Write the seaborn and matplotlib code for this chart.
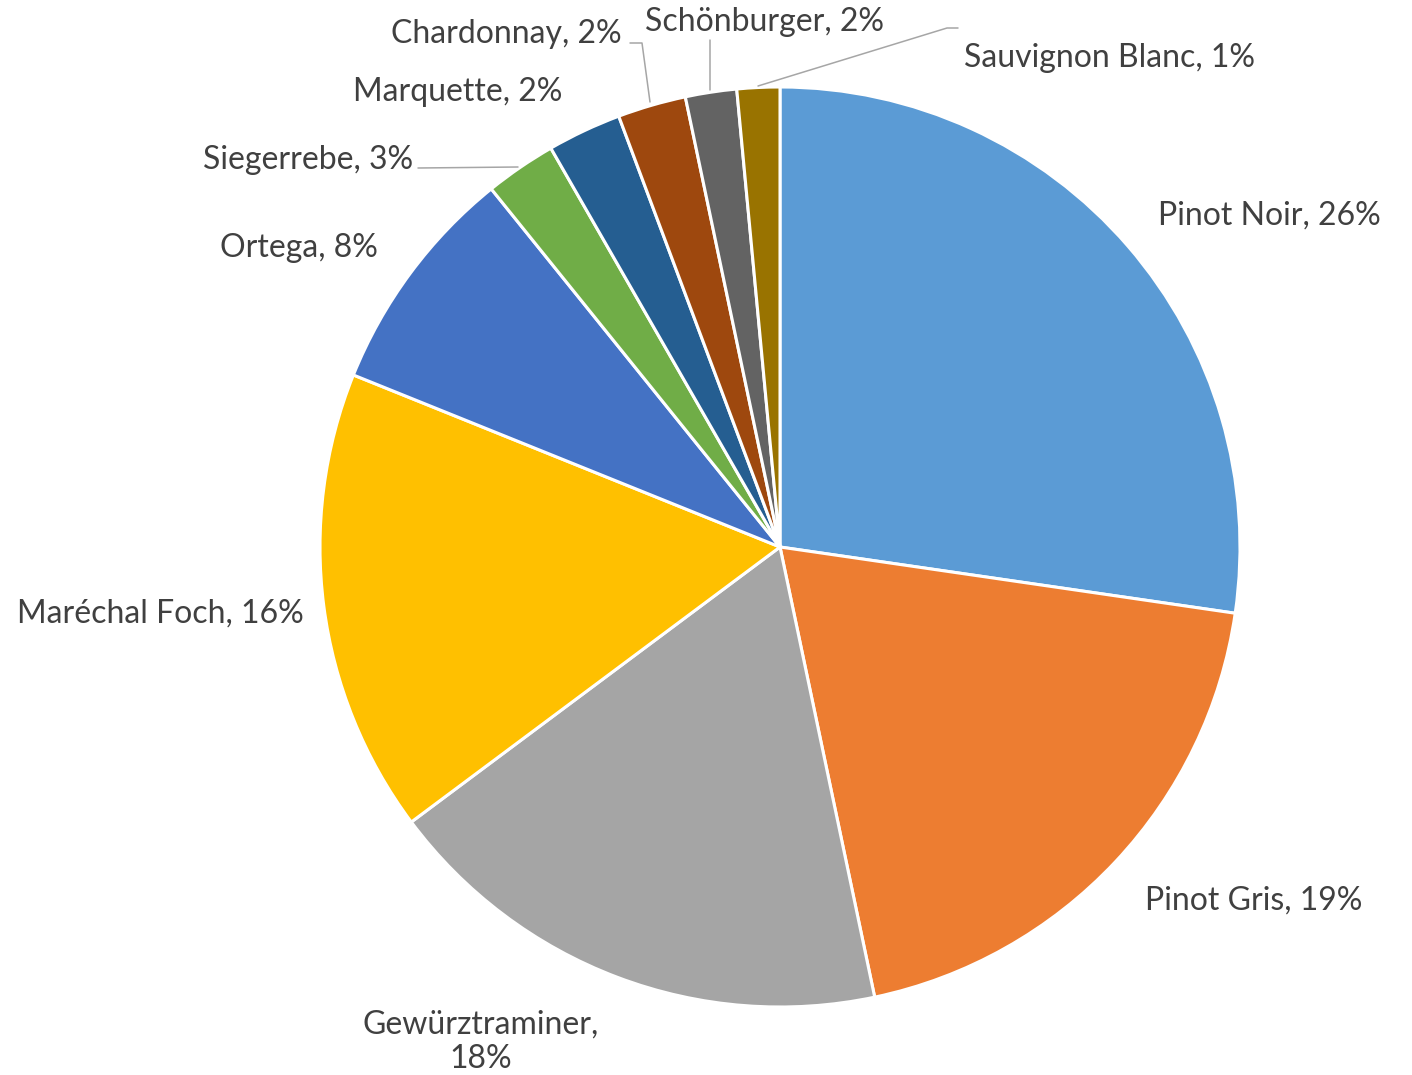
import matplotlib
matplotlib.use("Agg")
import matplotlib.pyplot as plt
import seaborn as sns

# Share of planted area per variety
varieties = ["Pinot Noir", "Pinot Gris", "Gewürztraminer", "Maréchal Foch", "Ortega",
             "Siegerrebe", "Marquette", "Chardonnay", "Schönburger", "Sauvignon Blanc"]
shares = [27.3, 19.4, 18.1, 16.3, 8.1, 2.5, 2.6, 2.4, 1.8, 1.5]
pct_labels = [26, 19, 18, 16, 8, 3, 2, 2, 2, 1]
colors = ["#5B9BD5", "#ED7D31", "#A5A5A5", "#FFC000", "#4472C4",
          "#70AD47", "#255E91", "#9E480E", "#636363", "#997300"]

sns.set_theme(style="white")
plt.rcParams['font.family'] = ['Lato', 'DejaVu Sans']

W, H = 1412, 1075
fig = plt.figure(figsize=(W / 100, H / 100), dpi=100)
ax = fig.add_axes([0, 0, 1, 1])

ax.pie(shares, colors=colors, startangle=90, counterclock=False,
       radius=460, center=(780, H - 547),
       wedgeprops=dict(edgecolor="white", linewidth=2.2))
ax.set_xlim(0, W)
ax.set_ylim(0, H)
ax.set_aspect("equal")
ax.axis("off")

# label placement in pixel coords (x, y from top, alignment)
label_pos = [(1158, 216, "left"), (1145, 901, "left"), (481, 1042, "center"),
             (304, 614, "right"), (378, 248, "right"), (413, 160, "right"),
             (562, 92, "right"), (622, 34, "right"), (645, 22, "left"),
             (964, 58, "left")]

for name, pct, (x, y, ha) in zip(varieties, pct_labels, label_pos):
    txt = f"{name}, {pct}%"
    if name == "Gewürztraminer":
        txt = f"{name},\n{pct}%"
    ax.text(x, H - y, txt, ha=ha, va="center", fontsize=23, color="#404040",
            linespacing=1.2)

# leader lines for the small slices
leaders = [
    [(418, 168), (518, 167)],
    [(630, 43), (642, 43), (650, 102)],
    [(710, 40), (710, 90)],
    [(958, 28), (947, 28), (758, 86)],
]
for pts in leaders:
    xs = [p[0] for p in pts]
    ys = [H - p[1] for p in pts]
    ax.plot(xs, ys, color="#A6A6A6", lw=1.1)

fig.savefig("out.png", dpi=100, facecolor="white")
